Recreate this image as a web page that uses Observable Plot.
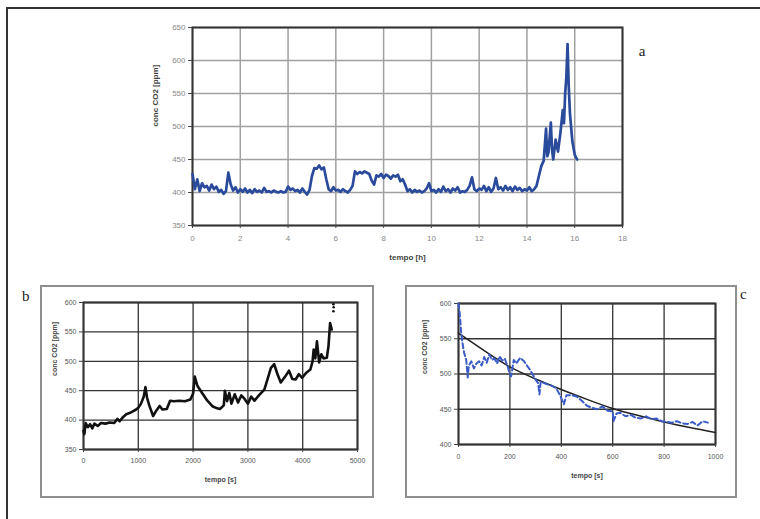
<!DOCTYPE html>
<html>
<head>
<meta charset="utf-8">
<script src="https://cdn.jsdelivr.net/npm/d3@7"></script>
<script src="https://cdn.jsdelivr.net/npm/@observablehq/plot@0.6"></script>
<style>
  html, body { margin: 0; padding: 0; background: #fff; }
  #page { position: relative; width: 760px; height: 519px; overflow: hidden; background: #fff; }
  .abs { position: absolute; }
  #outer { left: 6px; top: 7px; width: 760px; height: 530px; border-left: 2px solid #333; border-top: 2px solid #333; box-sizing: border-box; }
  .box { border: 2px solid #8e8e8e; box-sizing: border-box; }
  .panel { font-family: "Liberation Serif", "Times New Roman", serif; font-size: 15px; color: #222; }
</style>
</head>
<body>
<div id="page">
  <div id="outer" class="abs"></div>
  <div id="boxB" class="abs box" style="left:40px;top:285px;width:334px;height:213px;"></div>
  <div id="boxC" class="abs box" style="left:405px;top:285px;width:332px;height:213px;"></div>
  <div id="chartA" class="abs" style="left:140px;top:10px;"></div>
  <div id="chartB" class="abs" style="left:42px;top:287px;"></div>
  <div id="chartC" class="abs" style="left:407px;top:287px;"></div>
</div>
<script>
// ---------- Panel a: CO2 over hours ----------
const aTime = [0.0,0.1,0.2,0.3,0.4,0.5,0.6,0.7,0.8,0.9,1.0,1.1,1.2,1.3,1.4,1.5,1.6,1.7,1.8,1.9,
  2.0,2.1,2.2,2.3,2.4,2.5,2.6,2.7,2.8,2.9,3.0,3.1,3.2,3.3,3.4,3.5,3.6,3.7,3.8,3.9,
  4.0,4.1,4.2,4.3,4.4,4.5,4.6,4.7,4.8,4.9,5.0,5.1,5.2,5.3,5.4,5.5,5.6,5.7,5.8,5.9,
  6.0,6.1,6.2,6.3,6.4,6.5,6.6,6.7,6.8,6.9,7.0,7.1,7.2,7.3,7.4,7.5,7.6,7.7,7.8,7.9,
  8.0,8.1,8.2,8.3,8.4,8.5,8.6,8.7,8.8,8.9,9.0,9.1,9.2,9.3,9.4,9.5,9.6,9.7,9.8,9.9,
  10.0,10.1,10.2,10.3,10.4,10.5,10.6,10.7,10.8,10.9,11.0,11.1,11.2,11.3,11.4,11.5,11.6,11.7,11.8,11.9,
  12.0,12.1,12.2,12.3,12.4,12.5,12.6,12.7,12.8,12.9,13.0,13.1,13.2,13.3,13.4,13.5,13.6,13.7,13.8,13.9,
  14.0,14.1,14.2,14.3,14.4,14.5,14.6,14.7,14.8,14.85,14.9,15.0,15.05,15.1,15.2,15.3,15.4,15.5,15.55,15.6,
  15.65,15.7,15.75,15.8,15.9,16.0,16.1];
const aCO2 = [428,405,420,402,414,408,410,403,412,405,409,401,404,398,402,430,412,403,408,400,
  405,401,406,400,404,399,405,401,403,400,407,401,402,400,403,401,400,402,400,401,
  409,404,406,402,404,400,406,401,397,404,425,437,436,441,435,438,420,405,402,408,
  403,404,401,405,402,400,404,410,432,428,431,429,432,430,428,418,412,426,424,428,
  422,427,425,421,426,424,427,417,420,412,402,405,400,404,401,403,400,402,406,414,
  402,404,400,405,401,409,402,405,400,406,403,408,400,402,401,404,410,423,405,402,
  406,404,410,402,408,401,406,422,405,408,403,410,404,408,402,409,404,407,402,405,
  403,408,402,405,410,425,440,448,497,455,460,506,465,450,480,462,490,525,505,550,
  575,625,560,520,478,457,450];
const aXTicks = [0,2,4,6,8,10,12,14,16,18];
const aYTicks = [350,400,450,500,550,600,650];

// ---------- Panel b: CO2 over seconds ----------
const bTime = [0,15,40,80,120,160,200,260,320,400,480,560,620,660,720,780,840,900,960,1000,
  1050,1100,1130,1160,1200,1270,1320,1390,1440,1520,1580,1650,1750,1850,1950,2000,2030,2080,2180,2260,
  2360,2440,2490,2560,2580,2620,2660,2700,2760,2820,2880,2940,3000,3060,3120,3200,3300,3360,3420,3480,
  3540,3600,3680,3750,3810,3870,3930,3990,4060,4140,4180,4200,4230,4260,4300,4340,4380,4440,4470,4500,4530];
const bCO2 = [382,376,395,388,393,386,394,390,395,394,396,395,402,398,405,410,412,415,418,421,
  428,440,456,438,425,407,415,424,418,419,433,432,433,432,435,445,474,458,444,433,
  423,420,419,425,450,432,446,428,444,430,442,436,428,440,433,442,452,470,489,495,
  478,464,474,484,470,469,478,472,480,486,500,520,505,534,498,512,505,506,525,565,554];
const bDotTime = [4560,4565,4560];
const bDotCO2 = [585,592,597];
const bXTicks = [0,1000,2000,3000,4000,5000];
const bYTicks = [350,400,450,500,550,600];

// ---------- Panel c: decay over seconds ----------
const cTime = [0,5,10,15,22,30,36,40,50,60,70,80,90,100,110,120,130,140,150,160,
  170,180,190,200,205,215,225,240,255,270,280,300,310,315,320,340,360,380,395,410,
  420,440,460,480,500,520,540,560,580,600,603,615,630,650,670,690,710,730,750,770,
  790,810,830,850,870,890,910,930,950,970];
const cCO2 = [600,585,560,545,530,520,495,512,518,508,515,518,512,524,516,528,520,522,515,525,
  519,522,512,500,497,520,515,523,518,510,505,492,487,471,489,486,484,480,470,457,
  470,470,468,462,455,452,450,454,448,447,433,444,445,440,442,438,437,440,436,437,
  433,432,431,433,430,429,432,427,433,431];
const cFitTime = [0,100,200,300,400,500,600,700,800,900,1000];
const cFitCO2 = [558,533,510,493,478,464,451,441,432,424,417];
const cXTicks = [0,200,400,600,800,1000];
const cYTicks = [400,450,500,550,600];

const yLabel = "conc CO2 [ppm]";
const font = "Liberation Sans, Arial, sans-serif";
const plain = d => String(d);

function panel(opts) {
  const rows = opts.xs.map((x, i) => ({x, y: opts.ys[i]}));
  const marks = [
    Plot.gridX(opts.xTicks, {stroke: opts.grid, strokeOpacity: 1, strokeWidth: opts.gridW}),
    Plot.gridY(opts.yTicks, {stroke: opts.grid, strokeOpacity: 1, strokeWidth: opts.gridW}),
    Plot.frame({stroke: "#333", strokeWidth: 2}),
    Plot.axisX(opts.xTicks, {label: null, tickFormat: plain, tickSize: 3, tickPadding: opts.xPad, stroke: "#444", fill: opts.tickColor, fontSize: opts.tickSize}),
    Plot.axisY(opts.yTicks, {label: null, tickFormat: plain, tickSize: 4, tickPadding: 3, stroke: "#444", fill: opts.tickColor, fontSize: opts.tickSize}),
    ...opts.extra,
    Plot.line(rows, {x: "x", y: "y", stroke: opts.color, strokeWidth: opts.lineW, strokeDasharray: opts.dash}),
    Plot.text([yLabel], {frameAnchor: "left", rotate: -90, dx: opts.yLabDx, fontWeight: "bold", fill: "#444", fontSize: opts.labSize}),
    Plot.text([opts.xLabel], {frameAnchor: "bottom", dy: opts.xLabDy, fontWeight: "bold", fill: "#444", fontSize: opts.labSize}),
    ...(opts.after || [])
  ];
  return Plot.plot({
    width: opts.width, height: opts.height,
    marginLeft: opts.ml, marginRight: opts.mr, marginTop: opts.mt, marginBottom: opts.mb,
    style: {fontFamily: font, background: "transparent", overflow: "visible"},
    x: {domain: opts.xDomain},
    y: {domain: opts.yDomain},
    marks
  });
}

const chartA = panel({
  width: 520, height: 260, ml: 52, mr: 38, mt: 17, mb: 45,
  xs: aTime, ys: aCO2, xTicks: aXTicks, yTicks: aYTicks, xDomain: [0, 18], yDomain: [350, 650],
  grid: "#a0a0a0", gridW: 1.5, tickColor: "#888", tickSize: 8, xPad: 7,
  color: "#2a4b9b", lineW: 2.7, labSize: 8, yLabDx: -37, xLabDy: 34, xLabel: "tempo [h]", extra: [],
  after: [Plot.text(["a"], {frameAnchor: "top-right", dx: 23, dy: 18, fontSize: 15, fontFamily: "Liberation Serif, serif", fill: "#222"})]
});
document.getElementById("chartA").append(chartA);

const chartB = panel({
  width: 329, height: 208, ml: 41, mr: 14, mt: 15, mb: 46,
  xs: bTime, ys: bCO2, xTicks: bXTicks, yTicks: bYTicks, xDomain: [0, 5000], yDomain: [350, 600],
  grid: "#333", gridW: 1.3, tickColor: "#555", tickSize: 7, xPad: 6,
  color: "#111", lineW: 2.6, labSize: 7, yLabDx: -29, xLabDy: 32, xLabel: "tempo [s]",
  extra: [],
  after: [Plot.dot(bDotTime.map((x, i) => ({x, y: bDotCO2[i]})), {x: "x", y: "y", r: 1.3, fill: "#111"})]
});
document.getElementById("chartB").append(chartB);

const chartC = panel({
  width: 328, height: 208, ml: 51, mr: 20, mt: 16, mb: 51,
  xs: cTime, ys: cCO2, xTicks: cXTicks, yTicks: cYTicks, xDomain: [0, 1000], yDomain: [400, 600],
  grid: "#333", gridW: 1.3, tickColor: "#555", tickSize: 7, xPad: 7,
  color: "#3a5cc8", lineW: 2, dash: "5,3", labSize: 7, yLabDx: -34, xLabDy: 33, xLabel: "tempo [s]",
  extra: [Plot.line(cFitTime.map((x, i) => ({x, y: cFitCO2[i]})), {x: "x", y: "y", stroke: "#222", strokeWidth: 1.5, curve: "natural"})]
});
document.getElementById("chartC").append(chartC);

// panel letters b and c (placed outside plot frames)
const pageEl = document.getElementById("page");
[["b", 22, 288], ["c", 740, 286]].forEach(([t, l, tp]) => {
  const d = document.createElement("div");
  d.className = "abs panel";
  d.style.left = l + "px"; d.style.top = tp + "px";
  d.textContent = t;
  pageEl.append(d);
});
</script>
</body>
</html>
